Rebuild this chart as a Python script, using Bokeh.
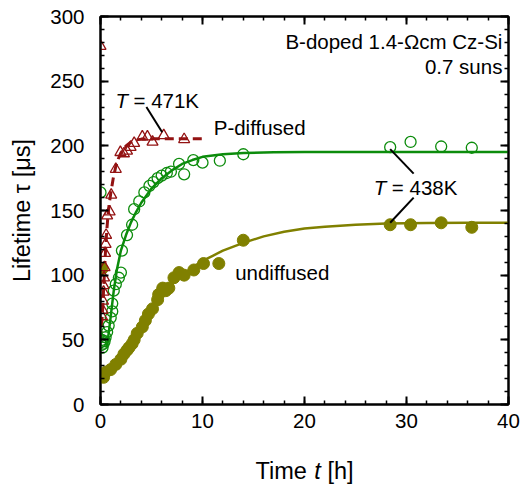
from bokeh.plotting import figure
from bokeh.models import Range1d, LinearAxis, SingleIntervalTicker, Label
from bokeh.embed import file_html
from bokeh.resources import INLINE

# ---------------- data ----------------
# P-diffused, T = 471 K (open triangles, dashed fit)
p471_t = [0.0, 0.15, 0.2, 0.25, 0.3, 0.3, 0.35, 0.4, 0.45, 0.5, 0.55, 0.65, 0.9, 1.05, 1.5,
          1.95, 2.3, 2.6, 2.95, 3.3, 4.1, 4.6, 5.1, 6.2, 8.2]
p471_tau = [277, 68, 73, 80, 87, 92, 98, 106, 117, 124, 131, 146, 149, 162, 182,
            195, 194, 196, 199, 202, 207, 207, 203, 208, 205]
p471_fit_t = [0.0, 0.1, 0.2, 0.3, 0.4, 0.5, 0.6, 0.7, 0.85, 1.0, 1.25, 1.5, 1.75, 2.0, 2.5,
              3.0, 3.5, 4.0, 5.0, 7.0, 10.0]
p471_fit_tau = [50, 60, 72, 88, 105, 120, 133, 143, 155, 163, 175, 184, 190, 194.5, 200,
                203, 204.5, 205.2, 205.5, 205.5, 205.5]

# P-diffused, T = 438 K (open circles, solid fit)
p438_t = [0.0, 0.0, 0.1, 0.15, 0.2, 0.3, 0.4, 0.5, 0.65, 0.8, 1.0, 1.15, 1.15, 1.3, 1.5,
          1.8, 2.0, 2.1, 2.6, 3.1, 3.3, 3.8, 4.3, 4.8, 5.2, 5.6, 6.0, 6.5, 6.9, 7.7,
          8.2, 9.1, 10.0, 11.7, 14.0, 28.4, 30.4, 33.4, 36.4]
p438_tau = [164, 48, 46, 50, 44, 47, 49, 52, 56, 61, 67, 72, 78, 88, 93,
            98, 102, 119, 131, 139, 151, 157, 164, 169, 172, 175, 177, 179, 180, 186,
            178, 189, 187, 188.5, 193.5, 199, 203, 199.5, 198.5]
p438_fit_t = [0.6, 0.8, 1.0, 1.3, 1.6, 2.0, 2.5, 3.0, 3.5, 4.0, 5.0, 6.0, 7.0, 8.0, 9.0,
              10.0, 12.0, 14.0, 17.0, 20.0, 30.0, 40.0]
p438_fit_tau = [44, 55, 68, 88, 104, 119, 131, 141, 149, 156, 167, 175, 181, 186, 189,
                191.5, 193.5, 194.5, 195, 195.2, 195.3, 195.3]

# undiffused, T = 438 K (filled circles, solid fit)
und_t = [0.0, 0.15, 0.3, 0.5, 1.0, 1.5, 2.0, 2.3, 2.6, 2.8, 3.1, 3.3, 3.6, 4.1, 4.4,
         4.7, 5.1, 5.6, 5.7, 6.1, 6.4, 6.7, 7.2, 7.7, 8.2, 9.15, 10.1, 11.6, 14.0,
         28.4, 30.4, 33.4, 36.4]
und_tau = [22, 105, 21, 25, 27, 31, 35, 39, 42, 44, 47, 50, 55, 60, 65,
           70, 74, 81, 85, 90, 88, 90, 98, 102, 100, 104, 109, 109, 127,
           139, 139, 140.5, 137]
und_fit_t = [0.0, 0.5, 1.0, 1.5, 2.0, 2.5, 3.0, 3.5, 4.0, 4.5, 5.0, 5.5, 6.0, 6.5, 7.0,
             8.0, 9.0, 10.0, 11.0, 12.0, 14.0, 16.0, 18.0, 20.0, 22.0, 25.0, 28.0, 32.0,
             36.0, 40.0]
und_fit_tau = [21, 23, 26, 30, 35, 40, 46, 52, 58, 65, 71, 77, 83, 88, 93,
               100, 106, 111, 115, 119, 125, 130, 133.5, 136, 137.5, 139, 140, 140.3,
               140.5, 140.5]

x_ticks_interval = 10
y_ticks_interval = 50

# ---------------- styling ----------------
FONT = "Liberation Sans"
FS = "20.5px"
FS_TITLE = "23.5px"
RED = "#931212"
GREEN = "#0c8c0c"
OLIVE = "#808000"

p = figure(frame_width=408, frame_height=388, output_backend="svg", toolbar_location=None,
           x_range=Range1d(0, 40), y_range=Range1d(0, 300),
           min_border_left=100, min_border_right=18, min_border_top=16, min_border_bottom=85,
           background_fill_color="white", border_fill_color="white")
p.xgrid.visible = False
p.ygrid.visible = False
p.outline_line_color = "black"
p.outline_line_width = 2

bottom = p.below[0]
left = p.left[0]
top = LinearAxis()
right = LinearAxis()
p.add_layout(top, "above")
p.add_layout(right, "right")

for ax in [bottom, top]:
    ax.ticker = SingleIntervalTicker(interval=x_ticks_interval, num_minor_ticks=5)
for ax in [left, right]:
    ax.ticker = SingleIntervalTicker(interval=y_ticks_interval, num_minor_ticks=5)

for ax in [bottom, left, top, right]:
    ax.axis_line_color = "black"
    ax.axis_line_width = 2
    ax.major_tick_in = 8
    ax.major_tick_out = 0
    ax.minor_tick_in = 4
    ax.minor_tick_out = 0
    ax.major_tick_line_width = 2
    ax.minor_tick_line_width = 1.5
    ax.major_tick_line_color = "black"
    ax.minor_tick_line_color = "black"
    ax.major_label_text_font = FONT
    ax.major_label_text_font_size = FS
    ax.major_label_text_color = "black"

for ax in [top, right]:
    ax.major_label_text_font_size = "1px"
    ax.major_label_text_color = None
    ax.major_label_standoff = 0

bottom.major_label_standoff = 9

left.major_label_standoff = 16
left.axis_label = "Lifetime τ [μs]"
left.axis_label_text_font = FONT
left.axis_label_text_font_size = FS_TITLE
left.axis_label_text_font_style = "normal"
left.axis_label_text_color = "black"
left.axis_label_standoff = 12

# fits
p.line(und_fit_t, und_fit_tau, line_color=OLIVE, line_width=2.5)
p.line(p438_fit_t, p438_fit_tau, line_color=GREEN, line_width=2.5)
p.line(p471_fit_t, p471_fit_tau, line_color=RED, line_width=3, line_dash="9 5")

# markers
p.scatter(und_t, und_tau, marker="circle", size=12, fill_color=OLIVE, line_color=OLIVE)
p.scatter(p438_t, p438_tau, marker="circle", size=11, fill_color=None,
          line_color=GREEN, line_width=1.3)
p.scatter(p471_t, p471_tau, marker="triangle", size=11, fill_color=None,
          line_color=RED, line_width=1.3)

# leader lines
p.line([4.5, 6.05], [230, 210.5], line_color="black", line_width=2)
p.line([28.4, 30.7], [197.5, 178.5], line_color="black", line_width=2)
p.line([30.7, 28.4], [160, 140.5], line_color="black", line_width=2)


def mk(x, y, text, align="left", style="normal", xo=0, yo=0, size=FS):
    return Label(x=x, y=y, text=text, x_offset=xo, y_offset=yo, text_align=align,
                 text_baseline="middle", text_font=FONT, text_font_size=size,
                 text_font_style=style, text_color="black")


def lab(*a, **k):
    p.add_layout(mk(*a, **k))


lab(1.47, 235, "T", style="italic")
lab(1.47, 235, "= 471K", xo=18)
lab(26.8, 168, "T", style="italic")
lab(26.8, 168, "= 438K", xo=18)
lab(11.1, 214, "P-diffused")
lab(13.2, 102, "undiffused")
lab(39.4, 281, "B-doped 1.4-Ωcm Cz-Si", align="right")
lab(39.4, 261.5, "0.7 suns", align="right")

# x-axis title with an italic "t": labels held by the bottom side panel (so they are
# not clipped to the frame), anchored at the data origin with pixel offsets
ty = -66
p.add_layout(mk(0, 0, "Time", xo=155.0, yo=ty, size=FS_TITLE), "below")
p.add_layout(mk(0, 0, "t", style="italic", xo=213.8, yo=ty, size=FS_TITLE), "below")
p.add_layout(mk(0, 0, "[h]", xo=226.9, yo=ty, size=FS_TITLE), "below")

open("out.html", "w").write(file_html(p, INLINE))
